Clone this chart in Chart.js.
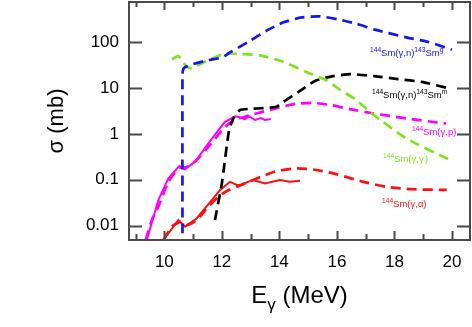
<!DOCTYPE html>
<html>
<head>
<meta charset="utf-8">
<script src="https://cdn.jsdelivr.net/npm/chart.js@4/dist/chart.umd.min.js"></script>
<style>
  html, body { margin: 0; padding: 0; background: #fff; }
  #wrap { width: 472px; height: 327px; }
</style>
</head>
<body>
<div id="wrap"><canvas id="chart" width="472" height="327"></canvas></div>
<script>
// photon energy (MeV) / cross section (mb)
const gnGroundE = [10.63, 10.63, 10.66, 10.75, 11.0, 11.5, 12.0, 12.3, 12.97, 13.54, 14.14, 14.78, 15.41, 16.05, 16.65, 17.32, 18.37, 19.18, 20.0];
const gnGroundV = [0.0068, 20, 26, 29, 33, 40, 46, 60, 105, 174, 268, 343, 362, 310, 253, 186, 128, 100, 68];

const ggE = [10.26, 10.49, 10.78, 10.95, 11.41, 12.1, 12.6, 13.33, 14.14, 14.95, 15.64, 16.1, 16.69, 17.15, 18.42, 19.93];
const ggV = [42, 49, 29, 27, 37, 56, 55, 51, 37, 22, 14.7, 9.2, 5.4, 3.0, 0.79, 0.27];

const gnMetaE = [11.76, 12.0, 12.25, 12.42, 12.63, 13.0, 13.33, 13.9, 14.14, 14.72, 15.24, 15.87, 16.5, 17.32, 18.13, 18.95, 19.93];
const gnMetaV = [0.0133, 0.084, 1.2, 2.3, 3.3, 3.5, 3.6, 3.9, 5.0, 8.6, 14.2, 18, 19.9, 18, 15.5, 13.5, 9.7];

const gpCalcE = [9.35, 9.56, 9.79, 10.14, 10.49, 10.78, 11.07, 11.53, 11.82, 12.11, 12.46, 12.99, 13.9, 14.54, 15.18, 15.82, 16.5, 17.24, 18.42, 19.58, 19.8];
const gpCalcV = [0.0049, 0.013, 0.026, 0.09, 0.177, 0.19, 0.25, 0.52, 0.86, 1.42, 2.0, 2.55, 3.6, 4.5, 4.7, 4.2, 3.4, 2.8, 2.16, 1.74, 1.68];

const gpExpE = [9.39, 9.79, 10.14, 10.52, 10.72, 11.07, 11.53, 11.88, 12.11, 12.46, 12.63, 12.8, 12.95, 13.15, 13.35, 13.5, 13.7];
const gpExpV = [0.0049, 0.036, 0.107, 0.2, 0.168, 0.25, 0.62, 1.2, 1.82, 2.4, 2.3, 2.1, 2.4, 2.0, 2.2, 2.0, 2.1];

const gaCalcE = [9.97, 10.26, 10.55, 10.78, 11.13, 11.53, 11.94, 12.24, 12.59, 12.8, 13.5, 13.96, 14.6, 15.24, 15.87, 16.5, 16.92, 17.73, 18.65, 19.82];
const gaCalcV = [0.0049, 0.0095, 0.012, 0.0103, 0.0133, 0.026, 0.046, 0.06, 0.073, 0.083, 0.126, 0.157, 0.177, 0.165, 0.138, 0.107, 0.09, 0.07, 0.062, 0.06];

const gaExpE = [9.97, 10.49, 10.72, 11.13, 11.94, 12.28, 12.52, 12.63, 13.08, 13.5, 14.02, 14.37, 14.72];
const gaExpV = [0.0049, 0.0133, 0.0095, 0.0145, 0.06, 0.09, 0.077, 0.077, 0.099, 0.083, 0.099, 0.09, 0.095];

const xTicks = [10, 12, 14, 16, 18, 20];
const xMinorTicks = [9, 10, 11, 12, 13, 14, 15, 16, 17, 18, 19, 20];
const yTicks = [0.01, 0.1, 1, 10, 100];
const yTickLabels = ['0.01', '0.1', '1', '10', '100'];

const BLUE = '#1414f5', GREEN = '#80e41c', MAGENTA = '#ff00ff', RED = '#ff1010', BLACK = '#000000';
const FONT = "'Liberation Sans', Arial, sans-serif";

const pts = (xs, ys) => xs.map((x, i) => ({ x: x, y: ys[i] }));

const dashed = (label, xs, ys, color) => ({
    label, data: pts(xs, ys), borderColor: color, borderWidth: 2.7,
    borderDash: [10, 6], tension: 0.2, pointRadius: 0, fill: false
});
const solid = (label, xs, ys, color) => ({
    label, data: pts(xs, ys), borderColor: color, borderWidth: 2,
    tension: 0, pointRadius: 0, fill: false
});

// text labels next to the curves: [segments, x, baseline, color]
const curveLabels = [
    [[['144', 1], ['Sm(γ,n)'], ['143', 1], ['Sm'], ['g', 1]], 370, 56, BLUE],
    [[['144', 1], ['Sm(γ,n)'], ['143', 1], ['Sm'], ['m', 1]], 372, 98, BLACK],
    [[['144', 1], ['Sm(γ,p)']], 412, 135, MAGENTA],
    [[['144', 1], ['Sm(γ,γ'], ["'", 1], [')']], 383, 162, GREEN],
    [[['144', 1], ['Sm(γ,α)']], 382, 207, RED]
];

function richText(ctx, segs, x, y, size, color) {
    ctx.save();
    ctx.fillStyle = color;
    ctx.textBaseline = 'alphabetic';
    ctx.textAlign = 'left';
    segs.forEach(([t, sup]) => {
        ctx.font = (sup ? size * 0.7 : size) + 'px ' + FONT;
        ctx.fillText(t, x, sup ? y - size * 0.4 : y);
        x += ctx.measureText(t).width;
    });
    ctx.restore();
}

const framePlugin = {
    id: 'frame',
    afterDraw(chart) {
        const { ctx, chartArea: a, scales: { x, y } } = chart;
        ctx.save();
        ctx.strokeStyle = '#4a4a4a';
        ctx.lineWidth = 2;
        ctx.strokeRect(a.left, a.top, a.right - a.left, a.bottom - a.top);
        ctx.beginPath();
        xMinorTicks.forEach(v => {
            const px = Math.round(x.getPixelForValue(v)) + 0.5;
            const major = xTicks.includes(v);
            ctx.moveTo(px, a.bottom); ctx.lineTo(px, a.bottom - (major ? 9 : 6));
            ctx.moveTo(px, a.top); ctx.lineTo(px, a.top + (major ? 8 : 5));
        });
        yTicks.forEach(v => {
            const py = Math.round(y.getPixelForValue(v)) + 0.5;
            ctx.moveTo(a.left, py); ctx.lineTo(a.left + 13, py);
            ctx.moveTo(a.right, py); ctx.lineTo(a.right - 13, py);
        });
        ctx.stroke();

        // x axis title with subscript gamma
        const cx = (a.left + a.right) / 2;
        ctx.fillStyle = '#000';
        ctx.textBaseline = 'alphabetic';
        ctx.font = '24px ' + FONT;
        const wE = ctx.measureText('E').width;
        const wRest = ctx.measureText(' (MeV)').width;
        ctx.font = '17px ' + FONT;
        const wG = ctx.measureText('γ').width;
        let tx = cx - (wE + wG + wRest) / 2;
        ctx.font = '24px ' + FONT;
        ctx.fillText('E', tx, 303); tx += wE;
        ctx.font = '17px ' + FONT;
        ctx.fillText('γ', tx, 310); tx += wG;
        ctx.font = '24px ' + FONT;
        ctx.fillText(' (MeV)', tx, 303);
        ctx.restore();

        curveLabels.forEach(([segs, lx, ly, c]) => richText(ctx, segs, lx, ly, 9.5, c));
    }
};

new Chart(document.getElementById('chart'), {
    type: 'line',
    data: {
        datasets: [
            dashed('144Sm(γ,n)143Smg', gnGroundE, gnGroundV, BLUE),
            dashed("144Sm(γ,γ')", ggE, ggV, GREEN),
            dashed('144Sm(γ,n)143Smm', gnMetaE, gnMetaV, BLACK),
            dashed('144Sm(γ,p)', gpCalcE, gpCalcV, MAGENTA),
            solid('144Sm(γ,p) exp', gpExpE, gpExpV, MAGENTA),
            dashed('144Sm(γ,α)', gaCalcE, gaCalcV, RED),
            solid('144Sm(γ,α) exp', gaExpE, gaExpV, RED)
        ]
    },
    options: {
        responsive: false,
        animation: false,
        layout: { padding: { top: 2, right: 2, left: 0, bottom: 0 } },
        plugins: { legend: { display: false }, tooltip: { enabled: false } },
        scales: {
            x: {
                type: 'linear', min: 8.77, max: 20.63,
                grid: { display: false, drawTicks: false },
                border: { display: false },
                afterBuildTicks: s => { s.ticks = xTicks.map(v => ({ value: v })); },
                afterFit: s => { s.height = 87; s.paddingLeft = 0; s.paddingRight = 0; },
                ticks: { padding: 12, color: '#000', font: { family: FONT, size: 17 }, maxRotation: 0, callback: v => String(v) }
            },
            y: {
                type: 'logarithmic', min: 0.00487, max: 743,
                grid: { display: false, drawTicks: false },
                border: { display: false },
                afterBuildTicks: s => { s.ticks = yTicks.map(v => ({ value: v })); },
                afterFit: s => { s.width = 129; s.paddingTop = 0; s.paddingBottom = 0; },
                ticks: { padding: 10, color: '#000', font: { family: FONT, size: 17 }, callback: (v, i) => yTickLabels[i] },
                title: { display: true, text: 'σ (mb)', color: '#000', font: { family: FONT, size: 22 }, padding: { top: 44, bottom: 0 } }
            }
        }
    },
    plugins: [framePlugin]
});
</script>
</body>
</html>
